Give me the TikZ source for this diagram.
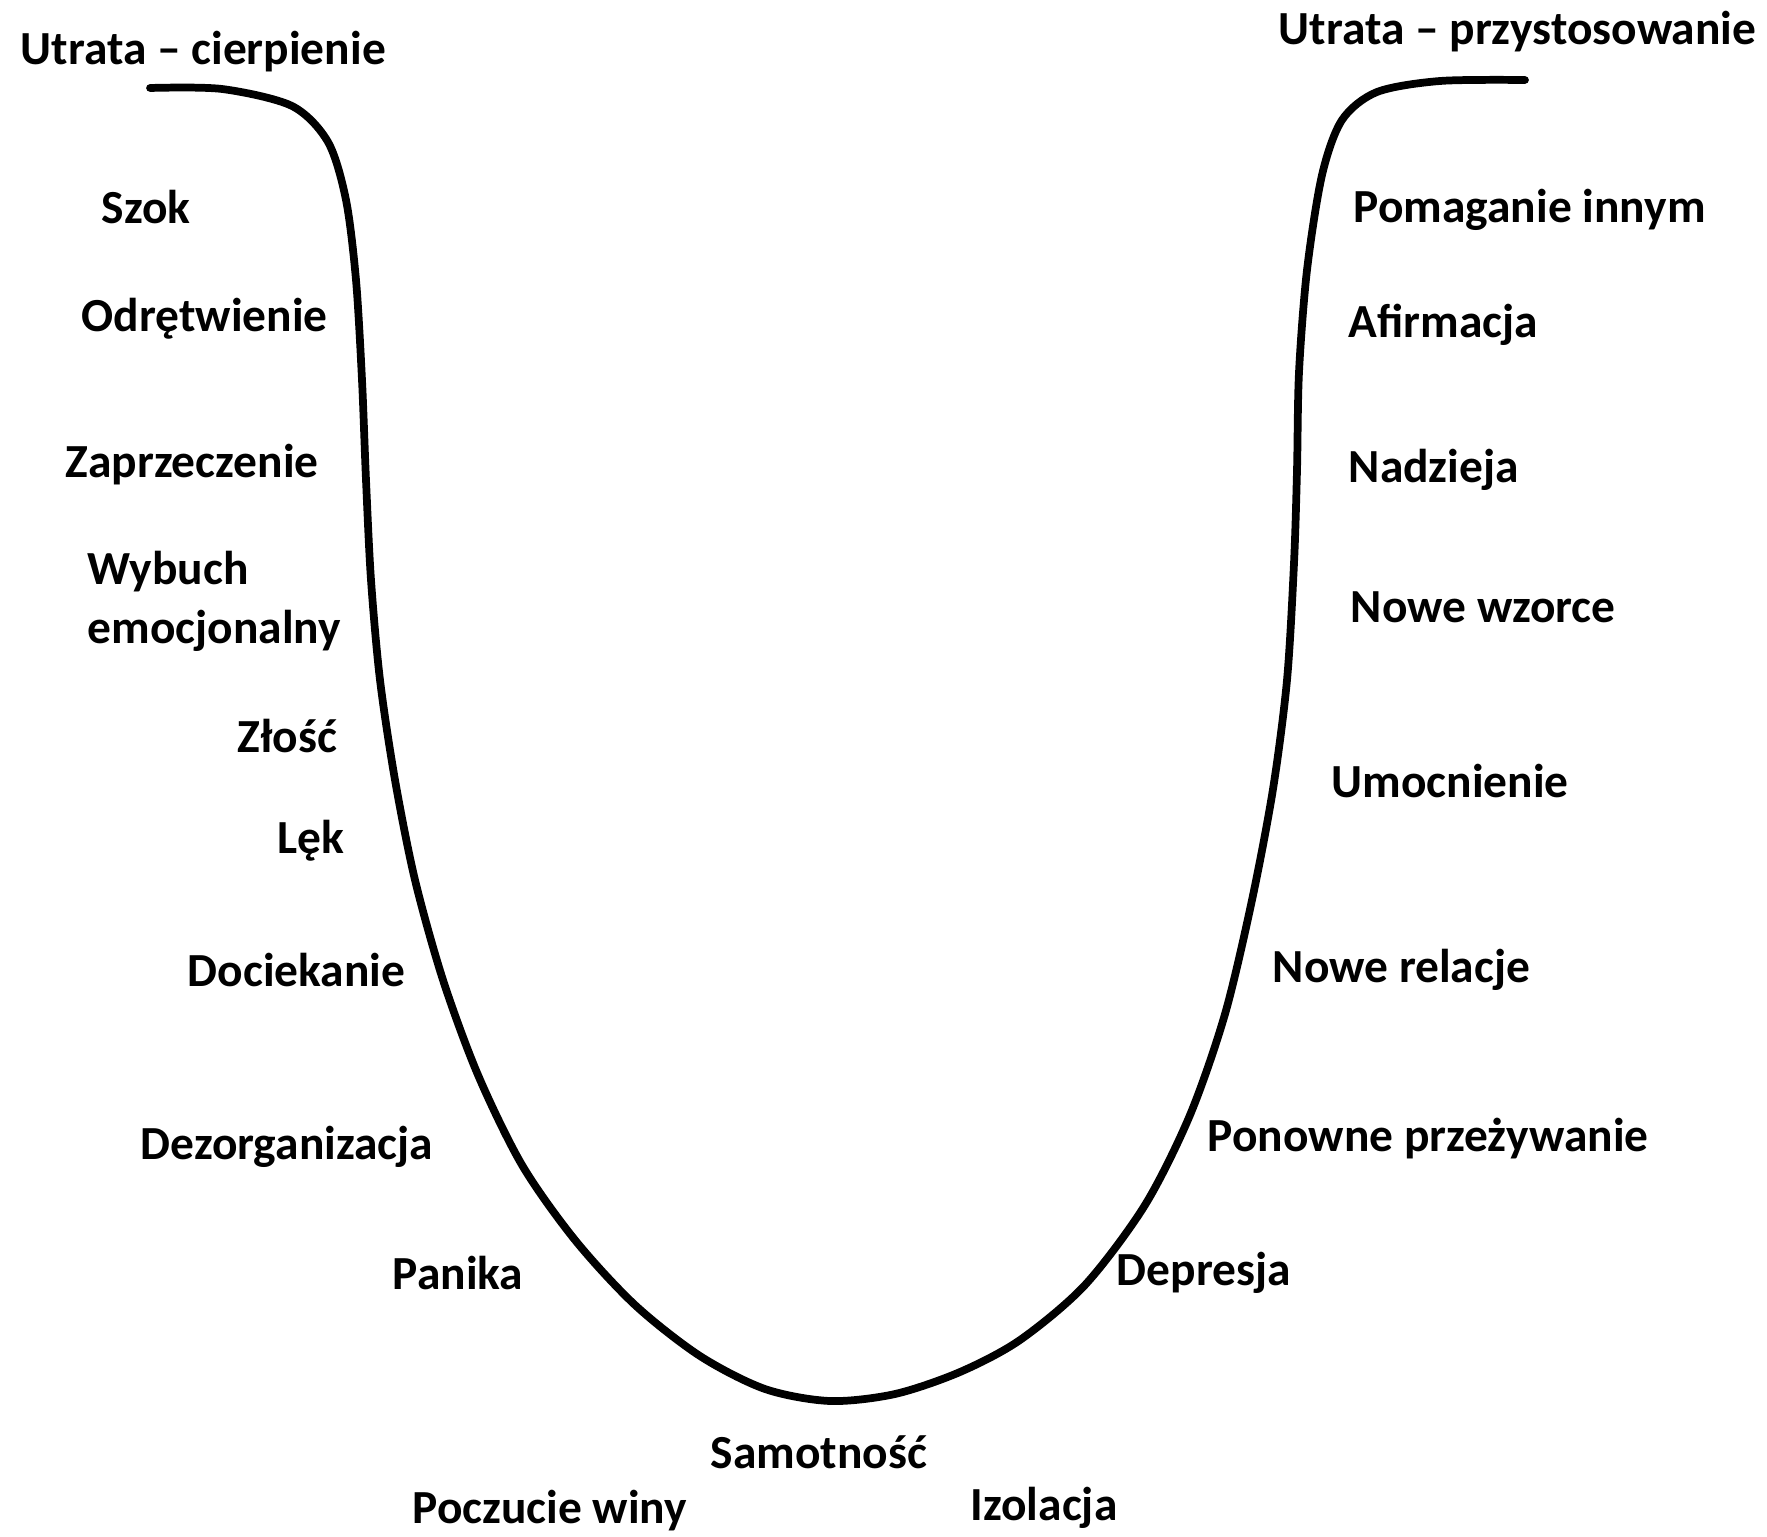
\documentclass[tikz,border=0pt]{standalone}
\usepackage{fontspec}
\setmainfont{Carlito}
\tikzset{
  stage/.style={anchor=base west, inner sep=0pt, font=\fontsize{13.5}{17}\selectfont\bfseries},
  griefcurve/.style={line width=2.2pt, line cap=round}
}
\begin{document}
\begin{tikzpicture}[x=0.01cm, y=-0.01cm]
  \useasboundingbox (0,0) rectangle (1767,1537);
  % Headings
  \node[stage] (suffering) at (20,65) {Utrata – cierpienie};
  \node[stage] (adjusting) at (1278,45) {Utrata – przystosowanie};

  % The curve
  \draw[griefcurve] plot[smooth, tension=0.5] coordinates {
    (150,88) (222,89) (292,106) (328,142) (346,200) (356,280) (362,380)
    (366,480) (371,580) (380,680) (395,780) (415,880) (443,980)
    (478,1075) (522,1165) (575,1240) (635,1305) (700,1356) (765,1389)
    (830,1401) (895,1394) (960,1372) (1020,1340) (1085,1285) (1145,1205)
    (1190,1115) (1225,1014) (1252,900) (1273,789) (1287,680) (1294,563)
    (1297,470) (1299,372) (1307,270) (1322,175) (1342,120) (1377,92)
    (1440,81) (1525,80)};

  % Left side
  \foreach \n/\x/\y/\t in {szok/101/224/Szok, odretwienie/81/332/Odrętwienie,
      zaprzeczenie/65/478/Zaprzeczenie, wybuch/87/584/Wybuch,
      emocjonalny/87/643/emocjonalny, zlosc/237/752/Złość, lek/277/853/Lęk,
      dociekanie/187/986/Dociekanie, dezorganizacja/140/1159/Dezorganizacja,
      panika/392/1289/Panika} {
    \node[stage] (\n) at (\x,\y) {\t};
  }

  % Bottom
  \node[stage] (samotnosc) at (710,1468) {Samotność};
  \node[stage] (wina) at (412,1523) {Poczucie winy};
  \node[stage] (izolacja) at (970,1520) {Izolacja};

  % Right side
  \foreach \n/\x/\y/\t in {depresja/1116/1285/Depresja,
      przezywanie/1207/1151/Ponowne przeżywanie, relacje/1272/982/Nowe relacje,
      umocnienie/1331/797/Umocnienie, wzorce/1350/623/Nowe wzorce,
      nadzieja/1348/483/Nadzieja, afirmacja/1348/338/Afirmacja,
      pomaganie/1353/223/Pomaganie innym} {
    \node[stage] (\n) at (\x,\y) {\t};
  }
\end{tikzpicture}
\end{document}
